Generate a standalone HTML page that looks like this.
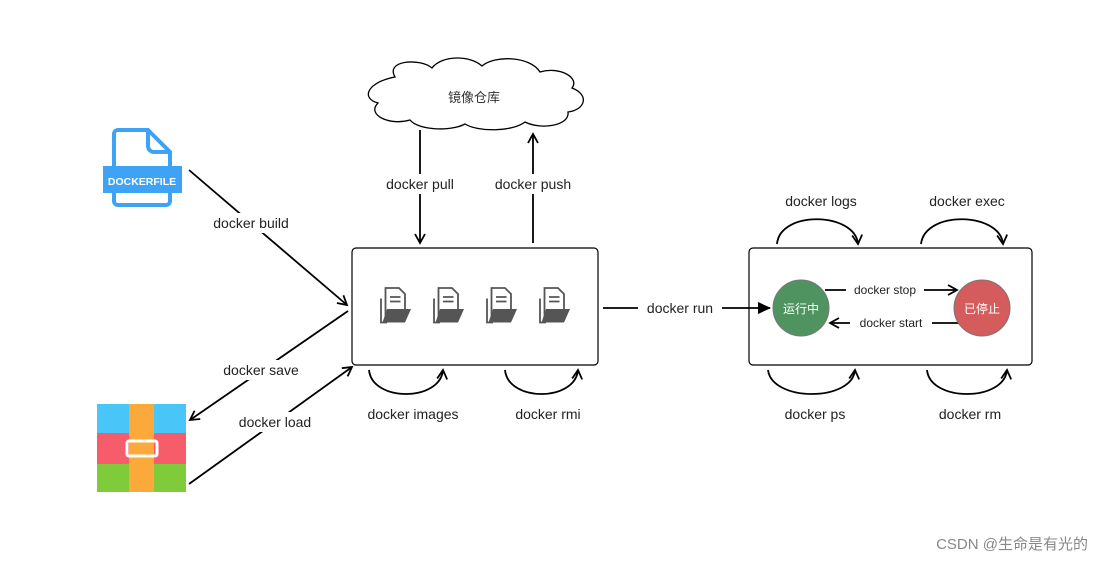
<!DOCTYPE html>
<html><head><meta charset="utf-8"><style>
body{margin:0;background:#fff;}
svg text{font-family:"Liberation Sans","Noto Sans CJK SC",sans-serif;}
</style></head><body>
<svg width="1102" height="562" viewBox="0 0 1102 562" xmlns="http://www.w3.org/2000/svg">
<defs>
<marker id="a" markerWidth="12" markerHeight="12" refX="10" refY="6" orient="auto" markerUnits="userSpaceOnUse">
<path d="M1,1 L10,6 L1,11" fill="none" stroke="#000" stroke-width="1.8"/></marker>
<marker id="f" markerWidth="14" markerHeight="12" refX="12" refY="6" orient="auto" markerUnits="userSpaceOnUse">
<path d="M0,0 L13,6 L0,12 Z" fill="#000"/></marker>
<g id="fold" transform="scale(1.5)">
<path d="M-7,-12 h9 l4,4 v14 h-13 Z" fill="#fff" stroke="#555" stroke-width="1.2"/>
<path d="M-4,-6 h7 M-4,-3 h7" stroke="#555" stroke-width="1.2"/>
<path d="M-10,-5 v16 h4" fill="none" stroke="#555" stroke-width="1.2"/>
<path d="M-6,2 h16 l-4,9 h-15 Z" fill="#555"/>
</g>
</defs>
<path d="M114,134 a4,4 0 0 1 4,-4 h30 l22,22 v49 a4,4 0 0 1 -4,4 h-48 a4,4 0 0 1 -4,-4 Z" fill="#fff" stroke="#3fa3f5" stroke-width="4"/>
<path d="M148,131 v15 a6,6 0 0 0 6,6 h15" fill="none" stroke="#3fa3f5" stroke-width="4"/>
<rect x="103" y="166" width="79" height="27" fill="#3fa3f5"/>
<text x="142" y="185" font-size="10.5" font-weight="bold" fill="#fff" text-anchor="middle">DOCKERFILE</text>
<rect x="97" y="404" width="89" height="29" fill="#49c6f7"/>
<rect x="97" y="433" width="89" height="31" fill="#f75c6a"/>
<rect x="97" y="464" width="89" height="28" fill="#7fcb3a"/>
<rect x="129" y="404" width="25" height="88" fill="#fba93b"/>
<rect x="127" y="441" width="30" height="15" rx="2" fill="none" stroke="#fff" stroke-width="3"/>
<path d="M395,77 C385,60 420,58 432,68 C442,55 470,55 482,66 C495,55 530,56 540,72 C560,66 580,78 572,88 C590,95 585,110 568,112 C570,126 540,130 525,122 C512,132 478,132 465,124 C450,132 418,130 410,120 C390,126 366,115 378,103 C360,98 368,82 395,77 Z" fill="#fff" stroke="#000" stroke-width="1.3"/>
<text x="474" y="102" font-size="13" fill="#333" text-anchor="middle">镜像仓库</text>
<rect x="352" y="248" width="246" height="117" rx="4" fill="#fff" stroke="#000" stroke-width="1.2"/>
<rect x="749" y="248" width="283" height="117" rx="4" fill="#fff" stroke="#000" stroke-width="1.2"/>
<use href="#fold" x="396" y="306"/><use href="#fold" x="449" y="306"/><use href="#fold" x="502" y="306"/><use href="#fold" x="555" y="306"/>
<g stroke="#000" stroke-width="1.8" fill="none">
<line x1="420" y1="130" x2="420" y2="243" marker-end="url(#a)"/>
<line x1="533" y1="243" x2="533" y2="134" marker-end="url(#a)"/>
<line x1="189" y1="170" x2="347" y2="305" marker-end="url(#a)"/>
<line x1="348" y1="311" x2="190" y2="420" marker-end="url(#a)"/>
<line x1="189" y1="484" x2="352" y2="367" marker-end="url(#a)"/>
<line x1="603" y1="308" x2="770" y2="308" marker-end="url(#f)"/>
<line x1="825" y1="290" x2="957" y2="290" marker-end="url(#a)"/>
<line x1="959" y1="323" x2="830" y2="323" marker-end="url(#a)"/>
<path d="M777,244 C780,210 855,212 858,244" marker-end="url(#a)"/>
<path d="M921,244 C925,210 1000,212 1003,244" marker-end="url(#a)"/>
<path d="M768,370 C772,402 852,402 855,370" marker-end="url(#a)"/>
<path d="M927,370 C930,402 1004,402 1007,370" marker-end="url(#a)"/>
<path d="M369,370 C372,402 440,402 443,370" marker-end="url(#a)"/>
<path d="M505,370 C508,402 575,402 578,370" marker-end="url(#a)"/>
</g>
<circle cx="801" cy="308" r="28" fill="#4f9460" stroke="#777"/>
<circle cx="982" cy="308" r="28" fill="#d45c5c" stroke="#777"/>
<text x="801" y="313" font-size="12" fill="#fff" text-anchor="middle">运行中</text>
<text x="982" y="313" font-size="12" fill="#fff" text-anchor="middle">已停止</text>
<g font-size="14" fill="#222" text-anchor="middle">
<rect x="372" y="174" width="96" height="20" fill="#fff"/>
<text x="420" y="189">docker pull</text>
<rect x="485" y="174" width="96" height="20" fill="#fff"/>
<text x="533" y="189">docker push</text>
<rect x="206" y="213" width="92" height="20" fill="#fff"/>
<text x="251" y="228">docker build</text>
<rect x="218" y="360" width="88" height="20" fill="#fff"/>
<text x="261" y="375">docker save</text>
<rect x="232" y="412" width="88" height="20" fill="#fff"/>
<text x="275" y="427">docker load</text>
<rect x="638" y="298" width="84" height="20" fill="#fff"/>
<text x="680" y="313">docker run</text>
<text x="821" y="206">docker logs</text>
<text x="967" y="206">docker exec</text>
<text x="815" y="419">docker ps</text>
<text x="970" y="419">docker rm</text>
<text x="413" y="419">docker images</text>
<text x="548" y="419">docker rmi</text>
</g>
<g font-size="12" fill="#222" text-anchor="middle">
<rect x="846" y="282" width="78" height="16" fill="#fff"/>
<text x="885" y="294">docker stop</text>
<rect x="850" y="315" width="82" height="16" fill="#fff"/>
<text x="891" y="327">docker start</text>
</g>
<text x="1088" y="549" font-size="15" fill="#888" text-anchor="end">CSDN @生命是有光的</text>
</svg>
</body></html>
